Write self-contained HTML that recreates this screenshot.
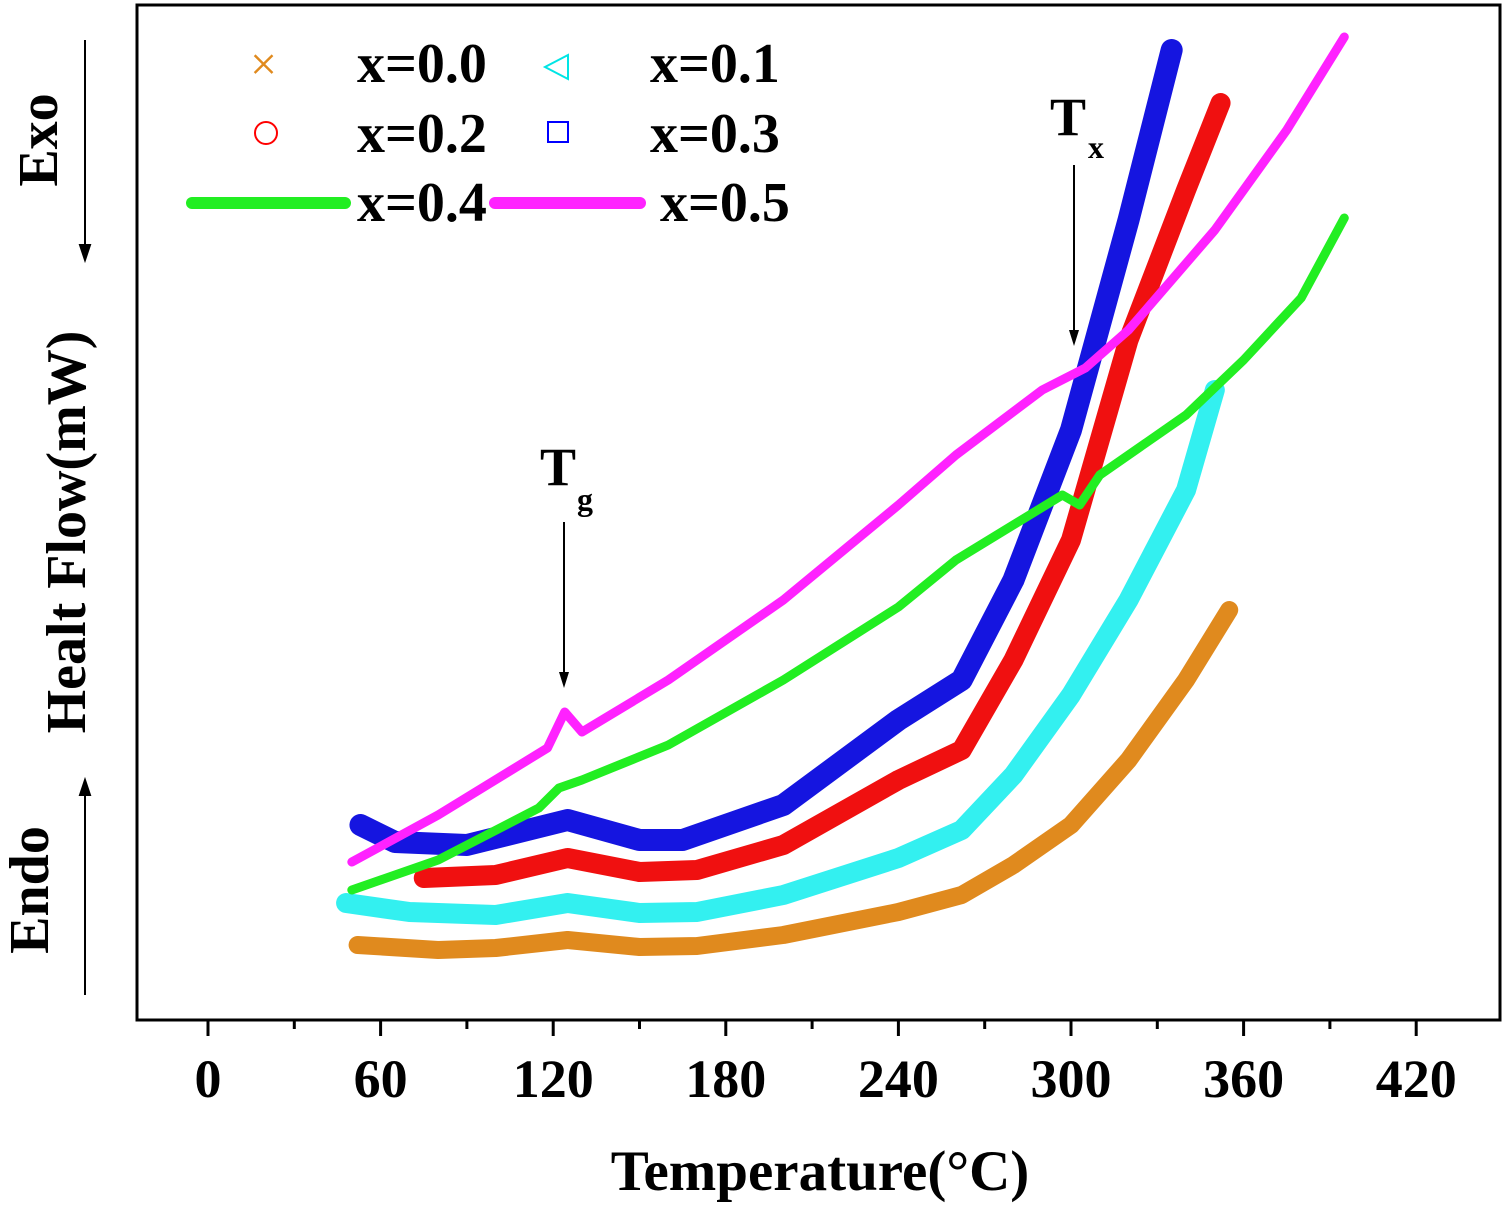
<!DOCTYPE html>
<html><head><meta charset="utf-8">
<style>
body{margin:0;background:#fff;}
svg{display:block;font-family:"Liberation Serif",serif;font-weight:bold;}
</style></head>
<body>
<svg id="chart" width="1508" height="1205" viewBox="0 0 1508 1205">
<rect x="137" y="5" width="1363" height="1015" fill="none" stroke="#000" stroke-width="3"/>
<g id="ticks"></g>
<g id="series"></g>
<text x="820" y="1190" font-size="57" text-anchor="middle">Temperature(°C)</text>
<text transform="translate(85,532) rotate(-90)" font-size="56" text-anchor="middle">Healt Flow(mW)</text>
<text transform="translate(57,140) rotate(-90)" font-size="56" text-anchor="middle">Exo</text>
<text transform="translate(48,890) rotate(-90)" font-size="56" text-anchor="middle">Endo</text>
<g stroke="#000" stroke-width="2" fill="#000">
<line x1="85" y1="40" x2="85" y2="250"/><polygon points="80,245 90,245 85,260"/>
<line x1="85" y1="995" x2="85" y2="790"/><polygon points="80,795 90,795 85,780"/>
</g>
<g>
<text x="540" y="485" font-size="54">T</text><text x="577" y="510" font-size="32">g</text>
<line x1="564" y1="522" x2="564" y2="675" stroke="#000" stroke-width="2"/><polygon points="559,672 569,672 564,688" fill="#000"/>
</g>
<g>
<text x="1050" y="135" font-size="54">T</text><text x="1088" y="158" font-size="32">x</text>
<line x1="1074" y1="165" x2="1074" y2="333" stroke="#000" stroke-width="2"/><polygon points="1069,330 1079,330 1074,346" fill="#000"/>
</g>
<g font-size="56">
<g><text x="250" y="80" font-size="48" fill="#e08a1e" font-weight="normal">×</text><text x="357" y="82">x=0.0</text></g>
<g><polygon points="568,55 568,79 545,67" fill="none" stroke="#00e5e5" stroke-width="2"/><text x="650" y="82">x=0.1</text></g>
<g><circle cx="266" cy="133" r="11" fill="none" stroke="#f00" stroke-width="2"/><text x="357" y="152">x=0.2</text></g>
<g><rect x="548" y="122" width="20" height="20" fill="none" stroke="#00f" stroke-width="2"/><text x="650" y="152">x=0.3</text></g>
<g><line x1="192" y1="203" x2="345" y2="203" stroke="#22ee22" stroke-width="12" stroke-linecap="round"/><text x="357" y="221">x=0.4</text></g>
<g><line x1="495" y1="203" x2="640" y2="203" stroke="#ff22ff" stroke-width="12" stroke-linecap="round"/><text x="660" y="221">x=0.5</text></g>
</g>
</svg>
<script>
const xTicks=[0,60,120,180,240,300,360,420];
const xMinor=[30,90,150,210,270,330,390,450];
const t00=[52,80,100,125,150,170,200,240,262,280,300,320,340,355];
const v00=[75,70,72,80,73,74,85,108,125,155,195,260,340,410];
const t01=[48,70,100,125,150,170,200,240,262,280,300,320,340,350];
const v01=[117,108,105,117,107,108,125,162,190,245,325,420,530,630];
const t02=[75,100,125,150,170,200,240,262,280,300,320,340,352];
const v02=[142,145,162,148,150,175,240,270,360,480,680,830,917];
const t03=[53,65,90,125,150,165,200,240,262,280,300,320,335];
const v03=[195,178,175,200,180,180,215,300,340,440,590,800,970];
const t04=[50,80,115,122,130,160,200,240,260,297,303,310,340,360,380,395];
const v04=[130,160,212,232,240,275,340,413,460,525,515,545,605,660,722,802];
const t05=[50,80,118,124,130,160,200,240,260,290,305,320,350,375,395];
const v05=[158,205,272,308,288,340,420,515,565,630,652,690,790,890,983];
const X=t=>208+t*172.6/60;
const Y=v=>1020-v;
const NS="http://www.w3.org/2000/svg";
const tg=document.getElementById('ticks');
xTicks.forEach(t=>{
 const l=document.createElementNS(NS,'line');
 l.setAttribute('x1',X(t));l.setAttribute('x2',X(t));l.setAttribute('y1',1020);l.setAttribute('y2',1036);
 l.setAttribute('stroke','#000');l.setAttribute('stroke-width',3);
 
 
 tg.appendChild(l);
 const tx=document.createElementNS(NS,'text');
 tx.setAttribute('x',X(t));tx.setAttribute('y',1097);tx.setAttribute('text-anchor','middle');tx.setAttribute('font-size','54');
 tx.textContent=t;
 
 
 tg.appendChild(tx);
});
xMinor.forEach(t=>{
 if(X(t)>1500)return;
 const l=document.createElementNS(NS,'line');
 l.setAttribute('x1',X(t));l.setAttribute('x2',X(t));l.setAttribute('y1',1020);l.setAttribute('y2',1029);
 l.setAttribute('stroke','#000');l.setAttribute('stroke-width',3);
 
 
 tg.appendChild(l);
});
const sg=document.getElementById('series');
function draw(ts,vs,color,w,name){
 const p=document.createElementNS(NS,'polyline');
 p.setAttribute('points',ts.map((t,i)=>X(t)+','+Y(vs[i])).join(' '));
 p.setAttribute('fill','none');p.setAttribute('stroke',color);p.setAttribute('stroke-width',w);
 p.setAttribute('stroke-linejoin','round');p.setAttribute('stroke-linecap','round');
 
 
 sg.appendChild(p);
}
draw(t00,v00,'#e08a1e',18,'series-x0');
draw(t01,v01,'#33f0f0',20,'series-x1');
draw(t02,v02,'#f01010',20,'series-x2');
draw(t03,v03,'#1515e0',22,'series-x3');
draw(t04,v04,'#22ee22',9,'series-x4');
draw(t05,v05,'#ff22ff',9,'series-x5');
</script>
</body></html>
